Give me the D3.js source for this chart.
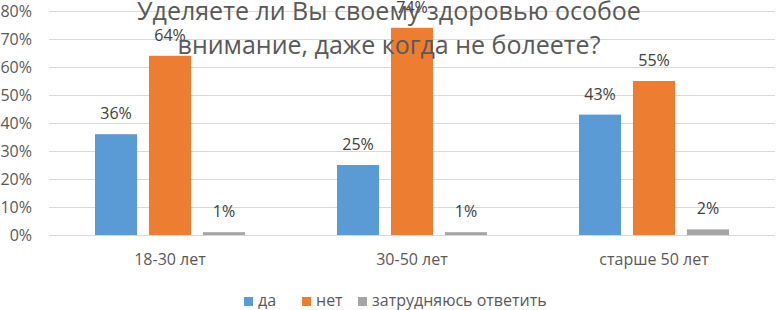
<!DOCTYPE html>
<html>
<head>
<meta charset="utf-8">
<script src="https://cdn.jsdelivr.net/npm/d3@7"></script>
<style>
  body { margin: 0; background: #fff; }
  text { font-family: "Open Sans", sans-serif; }
</style>
</head>
<body>
<div id="chart"></div>
<script>
const categories = ["18-30 лет", "30-50 лет", "старше 50 лет"];
const seriesNames = ["да", "нет", "затрудняюсь ответить"];
const yes = [36, 25, 43];
const no = [64, 74, 55];
const unsure = [1, 1, 2];
const yTicks = [0, 10, 20, 30, 40, 50, 60, 70, 80];
const titleLines = ["Уделяете ли Вы своему здоровью особое", "внимание, даже когда не болеете?"];

const colors = ["#5B9BD5", "#ED7D31", "#A5A5A5"];
const values = [yes, no, unsure];

const config = { width: 776, height: 310, left: 49, right: 1, top: 11, bottom: 75 };
const plotW = config.width - config.left - config.right;
const plotH = config.height - config.top - config.bottom;

const svg = d3.select("#chart")
  .append("svg")
  .attr("width", config.width)
  .attr("height", config.height);

const g = svg.append("g")
  .attr("transform", `translate(${config.left},${config.top})`);

const xScale = d3.scaleBand().domain(categories).range([0, plotW]).paddingInner(0).paddingOuter(0);
const inner = d3.scaleBand().domain(d3.range(seriesNames.length)).range([46, xScale.bandwidth() - 46]).paddingInner(0.22);
const yScale = d3.scaleLinear().domain([0, 80]).range([plotH, 0]);

// gridlines
g.append("g")
  .selectAll("line")
  .data(yTicks)
  .join("line")
  .attr("x1", 0)
  .attr("x2", plotW)
  .attr("y1", d => Math.round(yScale(d)) + 0.5)
  .attr("y2", d => Math.round(yScale(d)) + 0.5)
  .attr("stroke", "#D9D9D9")
  .attr("stroke-width", 1);

// y axis labels
const yAxis = d3.axisLeft(yScale).tickValues(yTicks).tickFormat(d => d + "%").tickSize(0).tickPadding(17);
g.append("g")
  .call(yAxis)
  .call(a => a.select(".domain").remove())
  .selectAll("text")
  .attr("fill", "#595959")
  .style("font-size", "16px")
  .style("font-family", "'Open Sans', sans-serif");

// x axis labels
const xAxis = d3.axisBottom(xScale).tickSize(0).tickPadding(19);
g.append("g")
  .attr("transform", `translate(0,${plotH})`)
  .call(xAxis)
  .call(a => a.select(".domain").remove())
  .selectAll("text")
  .attr("fill", "#595959")
  .style("font-size", "16px")
  .style("font-family", "'Open Sans', sans-serif");

// bars
const groups = g.append("g")
  .selectAll("g")
  .data(categories)
  .join("g")
  .attr("transform", d => `translate(${xScale(d)},0)`);

groups.each(function(cat, ci) {
  const grp = d3.select(this);
  seriesNames.forEach((s, si) => {
    const v = values[si][ci];
    grp.append("rect")
      .attr("x", inner(si))
      .attr("y", yScale(v))
      .attr("width", inner.bandwidth())
      .attr("height", plotH - yScale(v))
      .attr("fill", colors[si]);
    grp.append("text")
      .attr("x", inner(si) + inner.bandwidth() / 2)
      .attr("y", yScale(v) - 15)
      .attr("text-anchor", "middle")
      .attr("fill", "#404040")
      .style("font-size", "16px")
      .text(v + "%");
  });
});

// title
svg.append("g")
  .selectAll("text")
  .data(titleLines)
  .join("text")
  .attr("x", 389)
  .attr("y", (d, i) => 20 + i * 34)
  .attr("text-anchor", "middle")
  .attr("fill", "#595959")
  .style("font-size", "25px")
  .text(d => d);

// legend
const legendX = [244, 302, 358];
const legend = svg.append("g")
  .selectAll("g")
  .data(seriesNames)
  .join("g")
  .attr("transform", (d, i) => `translate(${legendX[i]},306)`);

legend.append("rect")
  .attr("x", 0)
  .attr("y", -9)
  .attr("width", 9)
  .attr("height", 9)
  .attr("fill", (d, i) => colors[i]);

legend.append("text")
  .attr("x", 14)
  .attr("y", 0)
  .attr("fill", "#595959")
  .style("font-size", "16px")
  .text(d => d);
</script>
</body>
</html>
